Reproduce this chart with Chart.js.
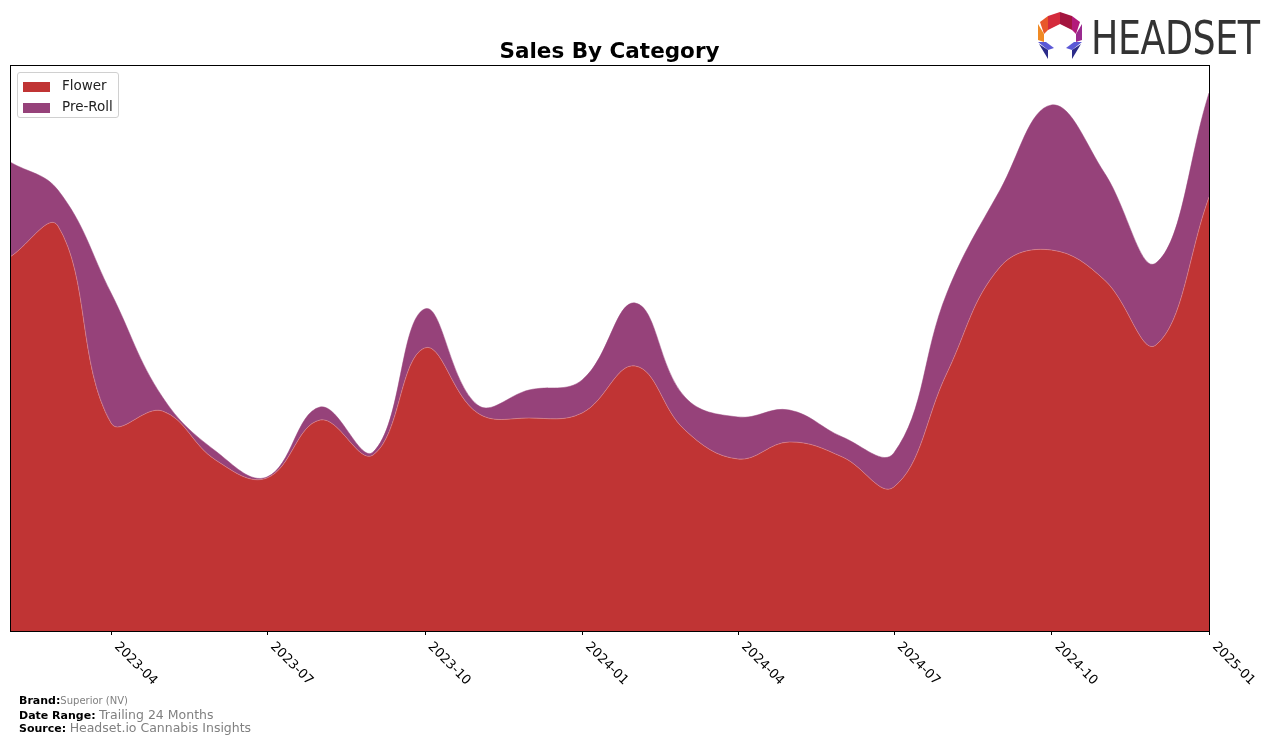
<!DOCTYPE html>
<html>
<head>
<meta charset="utf-8">
<script src="https://cdn.jsdelivr.net/npm/chart.js@4/dist/chart.umd.min.js"></script>
<style>
  html, body { margin: 0; padding: 0; background: #fff; }
  #wrap { position: relative; width: 1276px; height: 743px; overflow: hidden; font-family: "DejaVu Sans", sans-serif; }
  canvas { position: absolute; left: 0; top: 0; }
  #title { position: absolute; left: 10px; width: 1199px; top: 38px; text-align: center; font-weight: bold; font-size: 21.5px; line-height: 26px; color: #000; }
  #legend { position: absolute; left: 17px; top: 72px; width: 100px; height: 44px; border: 1px solid #d0d0d0; border-radius: 3px; background: rgba(255,255,255,0.8); font-size: 13.5px; }
  .li { position: absolute; left: 5px; height: 16px; }
  .sw { position: absolute; left: 0; top: 3px; width: 27px; height: 10px; }
  .lt { position: absolute; left: 39px; top: -2px; white-space: nowrap; color: #222; }
  .foot { position: absolute; left: 19px; font-size: 11px; white-space: nowrap; color: #000; }
  .foot b { font-weight: bold; }
  .foot span { color: #808080; }
  #logo { position: absolute; left: 1036px; top: 12px; width: 240px; height: 50px; }
  #logotext { position: absolute; left: 1091px; top: 14px; font-family: "Liberation Sans Narrow", "DejaVu Sans Condensed", "Liberation Sans", sans-serif; font-size: 47px; color: #333; transform-origin: 0 0; transform: scaleX(0.86); letter-spacing: -0.5px; line-height: 47px; }
</style>
</head>
<body>
<div id="wrap">
  <canvas id="c" width="1276" height="743"></canvas>
  <div id="title">Sales By Category</div>
  <div id="legend">
    <div class="li" style="top:6px"><div class="sw" style="background:#c03434"></div><div class="lt">Flower</div></div>
    <div class="li" style="top:27px"><div class="sw" style="background:#96427a"></div><div class="lt">Pre-Roll</div></div>
  </div>
  <div class="foot" style="top:694px"><b>Brand:</b><span style="font-size:10px">Superior (NV)</span></div>
  <div class="foot" style="top:707px"><b>Date Range:</b> <span style="font-size:12.5px">Trailing 24 Months</span></div>
  <div class="foot" style="top:720px"><b>Source:</b> <span style="font-size:12.5px">Headset.io Cannabis Insights</span></div>
  <svg id="logo" viewBox="0 0 240 50" width="240" height="50">
    <polygon points="4,10 12,4 12,18 8,22" fill="#e8572a"/>
    <polygon points="12,4 24,0 24,12 12,18" fill="#d42a3c"/>
    <polygon points="24,0 36,4 36,18 24,12" fill="#a3153f"/>
    <polygon points="36,4 44,10 40,22 36,18" fill="#b3197a"/>
    <polygon points="2,12 8,22 8,30 2,28" fill="#f08a24"/>
    <polygon points="46,12 40,22 40,30 46,28" fill="#9a2a8f"/>
    <polygon points="2,30 10,30 18,36 12,38" fill="#5b58d6"/>
    <polygon points="46,30 38,30 30,36 36,38" fill="#5b58d6"/>
    <polygon points="3,32 12,38 12,47" fill="#2c2c8a"/>
    <polygon points="45,32 36,38 36,47" fill="#2c2c8a"/>
  </svg>
  <div id="logotext">HEADSET</div>
</div>
<script>
// ---- data ----
const months = ["2023-02","2023-03","2023-04","2023-05","2023-06","2023-07","2023-08","2023-09","2023-10","2023-11","2023-12","2024-01",
                "2024-02","2024-03","2024-04","2024-05","2024-06","2024-07","2024-08","2024-09","2024-10","2024-11","2024-12","2025-01"];
const flower = [374, 405, 208, 220, 171, 153, 211, 176, 283, 218, 213, 218, 265, 201, 172, 189, 174, 144, 258, 364, 381, 351, 286, 434];
const preRoll = [95, 36, 130, 14, 9, 1, 13, 3, 39, 8, 28, 33, 63, 33, 42, 32, 20, 34, 80, 77, 145, 107, 82, 104];
const tickLabels = ["2023-04","2023-07","2023-10","2024-01","2024-04","2024-07","2024-10","2025-01"];

function dayOffset(ym) {
  const [y, m] = ym.split("-").map(Number);
  return (Date.UTC(y, m - 1, 1) - Date.UTC(2023, 1, 1)) / 86400000;
}
const xs = months.map(dayOffset);
const flowerPts = flower.map((v, i) => ({ x: xs[i], y: v }));
const preRollPts = preRoll.map((v, i) => ({ x: xs[i], y: v }));

const framePlugin = {
  id: "frame",
  afterDraw(chart) {
    const ctx = chart.ctx;
    const a = chart.chartArea;
    const xScale = chart.scales.x;
    ctx.save();
    ctx.strokeStyle = "#000";
    ctx.lineWidth = 1;
    ctx.strokeRect(Math.round(a.left) + 0.5, Math.round(a.top) + 0.5, Math.round(a.right - a.left), Math.round(a.bottom - a.top));
    ctx.font = "13px 'DejaVu Sans', sans-serif";
    ctx.fillStyle = "#000";
    ctx.textAlign = "left";
    ctx.textBaseline = "top";
    tickLabels.forEach(lab => {
      const px = xScale.getPixelForValue(dayOffset(lab));
      ctx.beginPath();
      ctx.moveTo(Math.round(px) + 0.5, a.bottom);
      ctx.lineTo(Math.round(px) + 0.5, a.bottom + 4);
      ctx.stroke();
      ctx.save();
      ctx.translate(px + 10, a.bottom + 9);
      ctx.rotate(Math.PI / 4);
      ctx.fillText(lab, 0, 0);
      ctx.restore();
    });
    ctx.restore();
  }
};

new Chart(document.getElementById("c"), {
  type: "line",
  data: {
    datasets: [
      { label: "Flower", data: flowerPts, backgroundColor: "#c03434", borderColor: "rgba(220,140,150,0.7)", borderWidth: 0.8, fill: "origin", pointRadius: 0, tension: 0.4 },
      { label: "Pre-Roll", data: preRollPts, backgroundColor: "#96427a", borderColor: "#96427a", borderWidth: 0.5, fill: "-1", pointRadius: 0, tension: 0.4 }
    ]
  },
  options: {
    responsive: false,
    animation: false,
    layout: { padding: { left: 10, top: 65, right: 67, bottom: 112 } },
    plugins: { legend: { display: false }, title: { display: false }, tooltip: { enabled: false } },
    scales: {
      x: { type: "linear", display: false, min: 0, max: 700 },
      y: { display: false, stacked: true, min: 0, max: 566 }
    }
  },
  plugins: [framePlugin]
});
</script>
</body>
</html>
